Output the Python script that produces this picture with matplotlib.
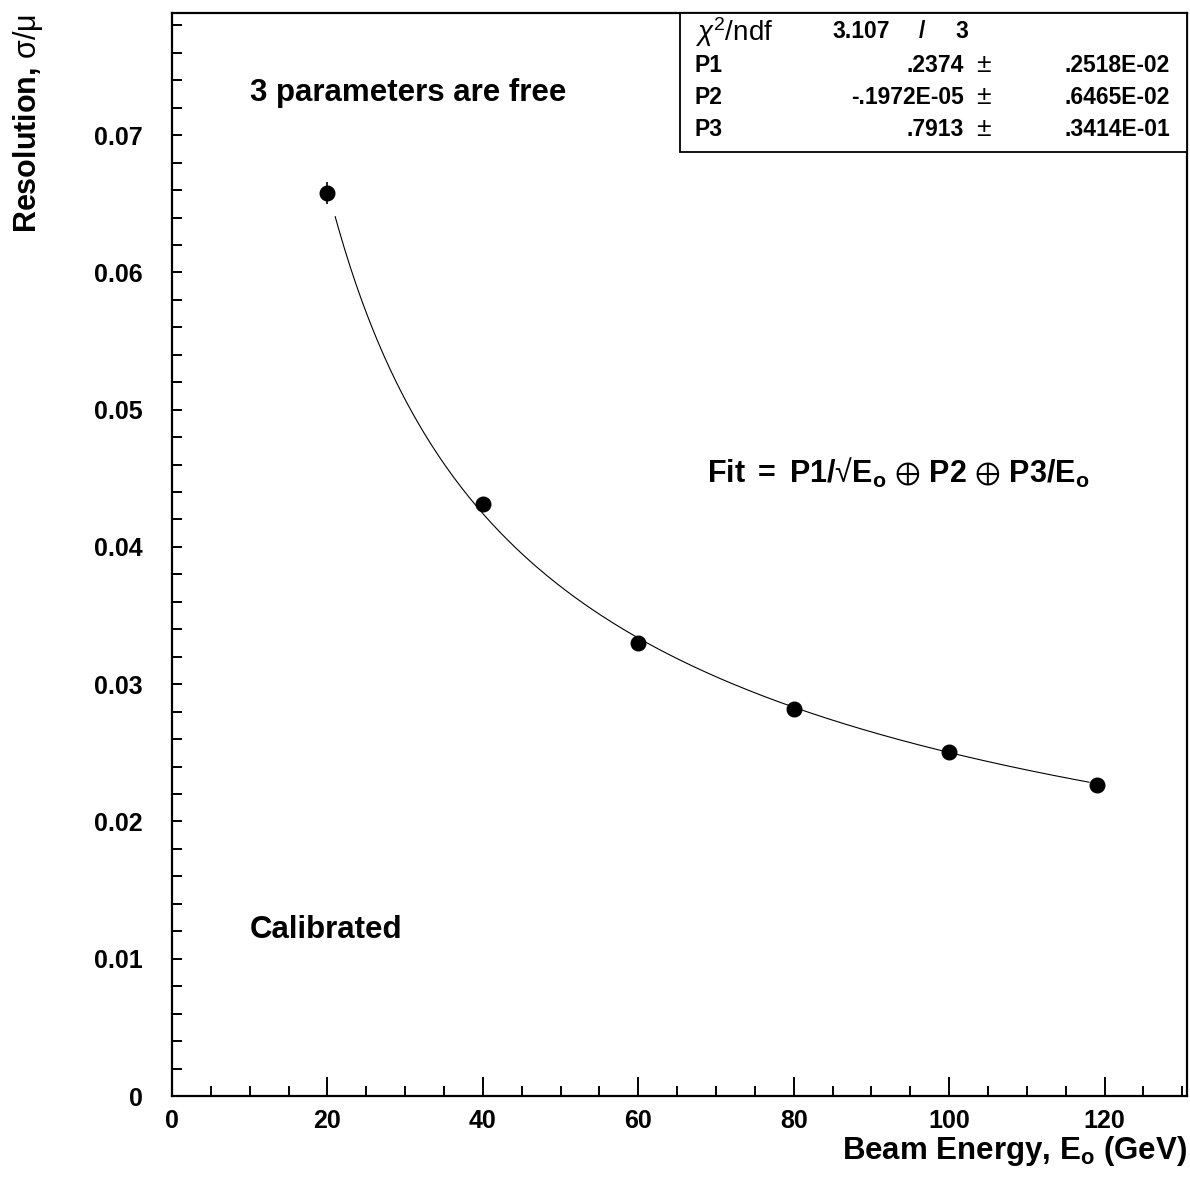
import numpy as np
import matplotlib
matplotlib.use("Agg")
import matplotlib.pyplot as plt
from matplotlib.patches import Rectangle
from matplotlib.ticker import MultipleLocator

plt.rcParams["font.family"] = ["Liberation Sans", "DejaVu Sans"]
plt.rcParams["mathtext.fontset"] = "custom"
plt.rcParams["mathtext.rm"] = "Liberation Sans"
plt.rcParams["mathtext.it"] = "Liberation Sans:italic"
plt.rcParams["mathtext.bf"] = "Liberation Sans:bold"
plt.rcParams["mathtext.sf"] = "Liberation Sans"
plt.rcParams["mathtext.fallback"] = "stix"

# Measured resolution vs beam energy
energy = [20, 40, 60, 80, 100, 119]
resolution = [0.0658, 0.0431, 0.0330, 0.0282, 0.02507, 0.02267]
res_err = [0.0008, 0.0004, 0.0003, 0.0002, 0.0002, 0.0002]

# Fit parameters: sigma/mu = P1/sqrt(E) (+) P2 (+) P3/E
p1, p1_err = 0.2374, 0.2518e-02
p2, p2_err = -0.1972e-05, 0.6465e-02
p3, p3_err = 0.7913, 0.3414e-01
chi2, ndf = 3.107, 3
fit_range = (21, 118)

fig = plt.figure(figsize=(11.90, 11.77), dpi=100)
W, H = 1190, 1177
x0, x1, y0, y1 = 172, 1187, 1096, 13
ax = fig.add_axes([x0 / W, 1 - y0 / H, (x1 - x0) / W, (y0 - y1) / H])

ax.set_xlim(0, 130.6)
ax.set_ylim(0, 0.0789)

e_fit = np.linspace(fit_range[0], fit_range[1], 400)
fit = np.sqrt((p1 / np.sqrt(e_fit)) ** 2 + p2 ** 2 + (p3 / e_fit) ** 2)
ax.plot(e_fit, fit, color="black", lw=0.8)
ax.errorbar(energy, resolution, yerr=res_err, fmt="o", color="black",
            ms=10.5, elinewidth=1.2, capsize=0)

for s in ax.spines.values():
    s.set_linewidth(1.6)

ax.xaxis.set_major_locator(MultipleLocator(20))
ax.xaxis.set_minor_locator(MultipleLocator(5))
ax.yaxis.set_major_locator(MultipleLocator(0.01))
ax.yaxis.set_minor_locator(MultipleLocator(0.002))
ax.tick_params(axis="x", which="major", direction="in", length=14, width=1.4,
               pad=9, labelsize=18)
ax.tick_params(axis="x", which="minor", direction="in", length=7, width=1.4)
ax.tick_params(axis="y", which="both", direction="in", length=7, width=1.4,
               pad=21, labelsize=18)
ax.tick_params(top=False, right=False, which="both")
ax.xaxis.set_major_formatter(plt.FuncFormatter(lambda v, p: f"{v:g}"))
ax.yaxis.set_major_formatter(plt.FuncFormatter(lambda v, p: "0" if abs(v) < 1e-9 else f"{v:.2f}"))
for lab in ax.get_xticklabels() + ax.get_yticklabels():
    lab.set_fontweight("bold")

# Axis titles
fig.text(x1 / W, 1 - 1151 / H, r"$\mathbf{Beam\ Energy{,}\ E_o\ (GeV)}$",
         ha="right", va="center", fontsize=22.5)
fig.text(28 / W, 1 - 14 / H, r"$\mathbf{Resolution{,}}\ \mathrm{\sigma/\mu}$",
         ha="center", va="top", rotation=90, fontsize=22)

# Annotations
ax.text(10.0, 0.0731, "3 parameters are free", fontsize=22.5, fontweight="bold",
        ha="left", va="center")
ax.text(10.0, 0.0121, "Calibrated", fontsize=22.5, fontweight="bold",
        ha="left", va="center")
ax.text(68.9, 0.0454,
        r"$\mathbf{Fit\ {=}\ P1/}\mathrm{" + "\u221a" + r"}\mathbf{E_o}\ {\oplus}\ \mathbf{P2}\ {\oplus}\ \mathbf{P3/E_o}$",
        fontsize=22, ha="left", va="center")

# Statistics box
bx0 = (680 - x0) / (x1 - x0)
by0 = (y0 - 152) / (y0 - y1)
ax.add_patch(Rectangle((bx0, by0), 1 - bx0, 1 - by0, transform=ax.transAxes,
                       facecolor="white", edgecolor="black", lw=1.3, zorder=5))

def fx(px):
    return (px - x0) / (x1 - x0)

def fy(py):
    return (y0 - py) / (y0 - y1)

kw = dict(transform=ax.transAxes, va="center", zorder=6)
ax.text(fx(695), fy(32), r"$\chi^2$/ndf", fontsize=20, fontweight="normal", ha="left", **kw)
ax.text(fx(832), fy(32), f"{chi2:.3f}", fontsize=16.5, fontweight="bold", ha="left", **kw)
ax.text(fx(922), fy(32), "/", fontsize=16.5, fontweight="bold", ha="center", **kw)
ax.text(fx(962), fy(32), f"{ndf}", fontsize=16.5, fontweight="bold", ha="center", **kw)

def fmt_val(v):
    return f"{v:.4f}".replace("0.", ".", 1)

def fmt_exp(v):
    m, e = f"{v:.3E}".split("E")
    mant = float(m) / 10
    exp = int(e) + 1
    s = f"{abs(mant):.4f}".replace("0.", ".", 1)
    sign = "-" if v < 0 else ""
    return f"{sign}{s}E{exp:+03d}"

rows = [("P1", fmt_val(p1), fmt_exp(p1_err)),
        ("P2", fmt_exp(p2), fmt_exp(p2_err)),
        ("P3", fmt_val(p3), fmt_exp(p3_err))]
for i, (name, val, err) in enumerate(rows):
    yy = fy(65 + 32 * i)
    ax.text(fx(695), yy, name, fontsize=16.5, fontweight="bold", ha="left", **kw)
    ax.text(fx(964), yy, val, fontsize=16.5, fontweight="bold", ha="right", **kw)
    ax.text(fx(984), yy, r"$\pm$", fontsize=19, ha="center", **kw)
    ax.text(fx(1170), yy, err, fontsize=16.5, fontweight="bold", ha="right", **kw)

fig.savefig("out.png", dpi=100)
